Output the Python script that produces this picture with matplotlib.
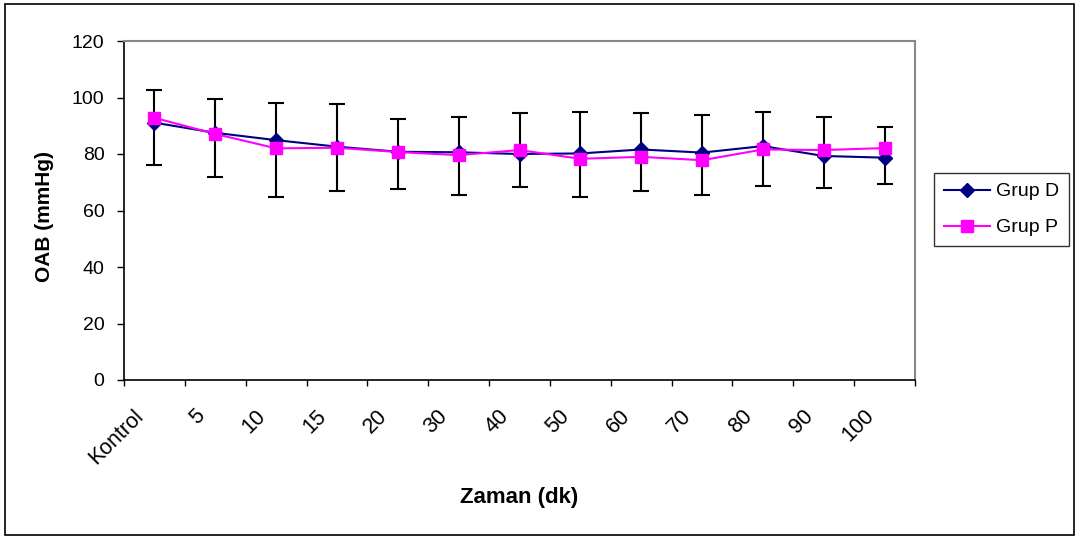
import numpy as np
import matplotlib
matplotlib.use("Agg")
import matplotlib.pyplot as plt
import matplotlib.transforms as mtransforms
from matplotlib.ticker import FixedLocator, NullFormatter

plt.rcParams["font.family"] = ["Liberation Sans", "DejaVu Sans"]

times = ["Kontrol", "5", "10", "15", "20", "30", "40", "50", "60", "70", "80", "90", "100"]
grup_d = [91.1, 87.5, 84.9, 82.6, 80.8, 80.6, 80.0, 80.2, 81.6, 80.5, 82.8, 79.3, 78.7]
grup_p = [92.8, 87.1, 82.0, 82.2, 80.7, 79.6, 81.4, 78.3, 79.0, 77.8, 81.6, 81.4, 82.1]
err_high = [102.5, 99.5, 98.2, 97.6, 92.5, 93.2, 94.5, 95.0, 94.4, 93.8, 95.0, 93.1, 89.4]
err_low = [76.2, 71.9, 64.9, 66.9, 67.6, 65.6, 68.2, 64.9, 66.9, 65.6, 68.7, 68.1, 69.4]

NAVY, MAGENTA = "#000080", "#FF00FF"
W, H = 1077, 537

fig = plt.figure(figsize=(W / 100, H / 100), dpi=100)
ax = fig.add_axes([124 / W, 1 - 380 / H, (915 - 124) / W, (380 - 41) / H])

x = np.arange(len(times)) + 0.5
d = np.array(grup_d)
yerr = [d - np.array(err_low), np.array(err_high) - d]
ax.errorbar(x, d, yerr=yerr, fmt="none", ecolor="black", elinewidth=1.5,
            capsize=5.5, capthick=1.5, zorder=2)
ax.plot(x, grup_d, color=NAVY, marker="D", ms=7, lw=1.5, label="Grup D", zorder=3)
ax.plot(x, grup_p, color=MAGENTA, marker="s", ms=8, lw=1.5, label="Grup P", zorder=4)

ax.set_xlim(0, len(times))
ax.set_ylim(0, 120)
ax.set_yticks(np.arange(0, 121, 20))
ax.xaxis.set_major_locator(FixedLocator(np.arange(len(times) + 1)))
ax.xaxis.set_major_formatter(NullFormatter())
ax.tick_params(axis="x", which="major", direction="out", length=4.5, width=1)
ax.tick_params(axis="y", direction="out", length=5, width=1, labelsize=14, pad=9)

# rotated category labels (Excel style), offset left/down from category centre
trans = ax.get_xaxis_transform() + mtransforms.ScaledTranslation(-14 / 100, -33 / 100,
                                                                  fig.dpi_scale_trans)
for xi, lab in zip(x, times):
    ax.text(xi, 0, lab, transform=trans, rotation=45, rotation_mode="anchor",
            ha="right", va="center", fontsize=15.5, clip_on=False)

for s in ["left", "bottom"]:
    ax.spines[s].set_color("black")
    ax.spines[s].set_linewidth(1.2)
for s in ["top", "right"]:
    ax.spines[s].set_color("#888888")
    ax.spines[s].set_linewidth(1.5)

fig.text(44 / W, 1 - 217 / H, "OAB (mmHg)", rotation=90, ha="center", va="center",
         fontsize=15, fontweight="bold")
fig.text((124 + 915) / 2 / W, 1 - 497 / H, "Zaman (dk)", ha="center", va="center",
         fontsize=16, fontweight="bold")

leg = fig.legend(loc="upper left", bbox_to_anchor=(934 / W, 1 - 173 / H),
                 fontsize=14, frameon=True, fancybox=False, edgecolor="black",
                 handlelength=2.4, borderpad=0.5, labelspacing=0.95, handletextpad=0.3,
                 borderaxespad=0)
leg.get_frame().set_linewidth(1.0)

fig.patches.append(plt.Rectangle((5 / W, 2 / H), 1 - 8 / W, 1 - 6 / H,
                                 transform=fig.transFigure, fill=False,
                                 edgecolor="black", lw=1.2))

fig.savefig("out.png", dpi=100)
